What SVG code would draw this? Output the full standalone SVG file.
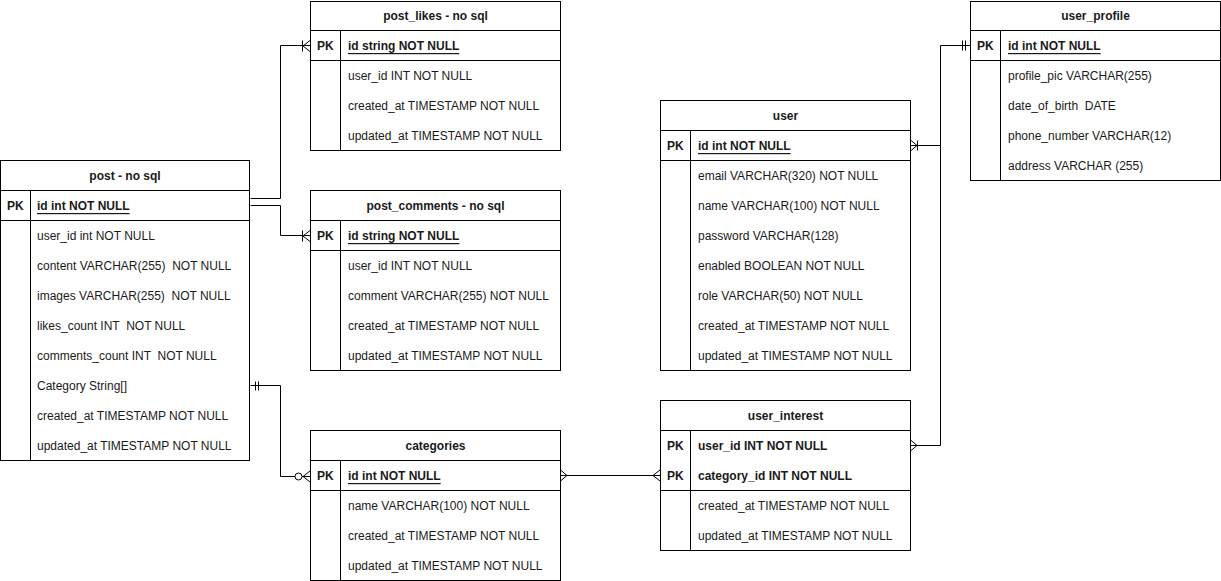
<svg xmlns="http://www.w3.org/2000/svg" width="1221" height="581" viewBox="0 0 1221 581">
<style>
.box{fill:#fff;stroke:#000;stroke-width:1}
.ln{stroke:#000;stroke-width:1;fill:none}
text{font-family:"Liberation Sans",Arial,sans-serif;font-size:12px;fill:#1a1a1a;dominant-baseline:central;white-space:pre}
.t{font-weight:bold;text-anchor:middle}
.pk{font-weight:bold}
.u{text-decoration:underline}
.c{stroke:#000;stroke-width:1;fill:none}
</style>
<rect width="1221" height="581" fill="#fff"/>

<g id="connectors">
  <!-- post -> post_likes -->
  <path class="c" d="M250.5,198.5 H280.5 V45.5 H310"/>
  <path class="c" d="M302.5,40.5 V51.5 M303,46 L310,40.5 M303,46 L310,51.5"/>
  <!-- post -> post_comments -->
  <path class="c" d="M250.5,205.5 H280.5 V235.5 H310"/>
  <path class="c" d="M302.5,230.5 V241.5 M303,236 L310,230.5 M303,236 L310,241.5"/>
  <!-- post Category -> categories -->
  <path class="c" d="M250.5,385.5 H280.5 V476.5 H295"/>
  <path class="c" d="M255.5,381.5 V390.5 M258.5,381.5 V390.5"/>
  <circle class="c" cx="298.5" cy="476.5" r="3.5"/>
  <path class="c" d="M302,476.5 H310 M303,476.5 L310,471 M303,476.5 L310,482"/>
  <!-- categories -> user_interest -->
  <path class="c" d="M560.5,475.5 H660"/>
  <path class="c" d="M567,475.5 L560.5,470 M567,475.5 L560.5,481"/>
  <path class="c" d="M653,475.5 L660,470 M653,475.5 L660,481"/>
  <!-- user -> user_profile -->
  <path class="c" d="M910.5,145.5 H940.5 V45.5 H970"/>
  <path class="c" d="M917.5,140.5 V150.5 M917,145.5 L910.5,140 M917,145.5 L910.5,151"/>
  <path class="c" d="M962.5,40.5 V50.5 M965.5,40.5 V50.5"/>
  <!-- user_interest -> user -->
  <path class="c" d="M910.5,445.5 H940.5 V145.5"/>
  <path class="c" d="M917,445.5 L910.5,440 M917,445.5 L910.5,451"/>
</g>

<g id="post">
  <rect class="box" x="0.5" y="160.5" width="249" height="300"/>
  <path class="ln" d="M0.5,190.5 H249.5 M0.5,220.5 H249.5 M30.5,190.5 V460.5"/>
  <text class="t" x="125" y="176">post - no sql</text>
  <text class="pk" x="7" y="206">PK</text>
  <text class="pk u" x="37" y="206">id int NOT NULL</text>
  <text x="37" y="236">user_id int NOT NULL</text>
  <text x="37" y="266">content VARCHAR(255)  NOT NULL</text>
  <text x="37" y="296">images VARCHAR(255)  NOT NULL</text>
  <text x="37" y="326">likes_count INT  NOT NULL</text>
  <text x="37" y="356">comments_count INT  NOT NULL</text>
  <text x="37" y="386">Category String[]</text>
  <text x="37" y="416">created_at TIMESTAMP NOT NULL</text>
  <text x="37" y="446">updated_at TIMESTAMP NOT NULL</text>
</g>

<g id="post_likes">
  <rect class="box" x="310.5" y="1.5" width="250" height="149"/>
  <path class="ln" d="M310.5,30.5 H560.5 M310.5,60.5 H560.5 M340.5,30.5 V150.5"/>
  <text class="t" x="435.5" y="16">post_likes - no sql</text>
  <text class="pk" x="317" y="46">PK</text>
  <text class="pk u" x="348" y="46">id string NOT NULL</text>
  <text x="348" y="76">user_id INT NOT NULL</text>
  <text x="348" y="106">created_at TIMESTAMP NOT NULL</text>
  <text x="348" y="136">updated_at TIMESTAMP NOT NULL</text>
</g>

<g id="post_comments">
  <rect class="box" x="310.5" y="190.5" width="250" height="180"/>
  <path class="ln" d="M310.5,220.5 H560.5 M310.5,250.5 H560.5 M340.5,220.5 V370.5"/>
  <text class="t" x="435.5" y="206">post_comments - no sql</text>
  <text class="pk" x="317" y="236">PK</text>
  <text class="pk u" x="348" y="236">id string NOT NULL</text>
  <text x="348" y="266">user_id INT NOT NULL</text>
  <text x="348" y="296">comment VARCHAR(255) NOT NULL</text>
  <text x="348" y="326">created_at TIMESTAMP NOT NULL</text>
  <text x="348" y="356">updated_at TIMESTAMP NOT NULL</text>
</g>

<g id="categories">
  <rect class="box" x="310.5" y="430.5" width="250" height="150"/>
  <path class="ln" d="M310.5,460.5 H560.5 M310.5,490.5 H560.5 M340.5,460.5 V580.5"/>
  <text class="t" x="435.5" y="446">categories</text>
  <text class="pk" x="317" y="476">PK</text>
  <text class="pk u" x="348" y="476">id int NOT NULL</text>
  <text x="348" y="506">name VARCHAR(100) NOT NULL</text>
  <text x="348" y="536">created_at TIMESTAMP NOT NULL</text>
  <text x="348" y="566">updated_at TIMESTAMP NOT NULL</text>
</g>

<g id="user">
  <rect class="box" x="660.5" y="100.5" width="250" height="270"/>
  <path class="ln" d="M660.5,130.5 H910.5 M660.5,160.5 H910.5 M690.5,130.5 V370.5"/>
  <text class="t" x="785.5" y="116">user</text>
  <text class="pk" x="667" y="146">PK</text>
  <text class="pk u" x="698" y="146">id int NOT NULL</text>
  <text x="698" y="176">email VARCHAR(320) NOT NULL</text>
  <text x="698" y="206">name VARCHAR(100) NOT NULL</text>
  <text x="698" y="236">password VARCHAR(128)</text>
  <text x="698" y="266">enabled BOOLEAN NOT NULL</text>
  <text x="698" y="296">role VARCHAR(50) NOT NULL</text>
  <text x="698" y="326">created_at TIMESTAMP NOT NULL</text>
  <text x="698" y="356">updated_at TIMESTAMP NOT NULL</text>
</g>

<g id="user_profile">
  <rect class="box" x="970.5" y="1.5" width="250" height="179"/>
  <path class="ln" d="M970.5,30.5 H1220.5 M970.5,60.5 H1220.5 M1000.5,30.5 V180.5"/>
  <text class="t" x="1095.5" y="16">user_profile</text>
  <text class="pk" x="977" y="46">PK</text>
  <text class="pk u" x="1008" y="46">id int NOT NULL</text>
  <text x="1008" y="76">profile_pic VARCHAR(255)</text>
  <text x="1008" y="106">date_of_birth  DATE</text>
  <text x="1008" y="136">phone_number VARCHAR(12)</text>
  <text x="1008" y="166">address VARCHAR (255)</text>
</g>

<g id="user_interest">
  <rect class="box" x="660.5" y="400.5" width="250" height="150"/>
  <path class="ln" d="M660.5,430.5 H910.5 M660.5,490.5 H910.5 M690.5,430.5 V550.5"/>
  <text class="t" x="785.5" y="416">user_interest</text>
  <text class="pk" x="667" y="446">PK</text>
  <text class="pk" x="698" y="446">user_id INT NOT NULL</text>
  <text class="pk" x="667" y="476">PK</text>
  <text class="pk" x="698" y="476">category_id INT NOT NULL</text>
  <text x="698" y="506">created_at TIMESTAMP NOT NULL</text>
  <text x="698" y="536">updated_at TIMESTAMP NOT NULL</text>
</g>
</svg>
